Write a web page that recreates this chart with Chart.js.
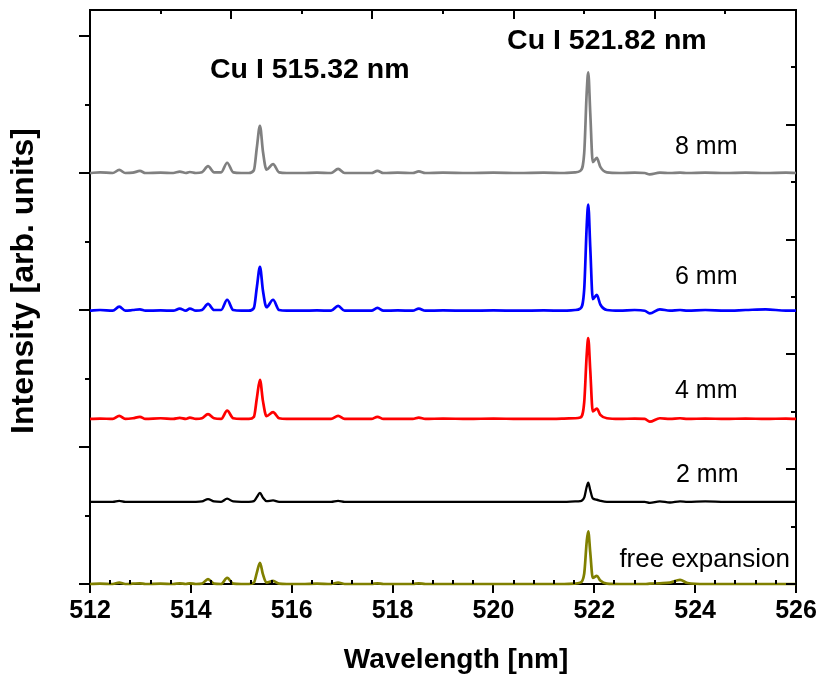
<!DOCTYPE html>
<html>
<head>
<meta charset="utf-8">
<script src="https://cdn.jsdelivr.net/npm/chart.js@4/dist/chart.umd.min.js"></script>
<style>
  html, body { margin: 0; padding: 0; background: #ffffff; }
  #wrap { width: 823px; height: 677px; position: relative; }
</style>
</head>
<body>
<div id="wrap"><canvas id="spec"></canvas></div>
<script>
// Wavelength grid (nm), shared by all spectra
const wavelength = [
  512.00, 512.20, 512.45, 512.58, 512.70, 512.85, 512.99, 513.10, 513.40, 513.65,
  513.78, 513.90, 513.98, 514.10, 514.22, 514.34, 514.46, 514.60, 514.72, 514.84,
  515.00, 515.15, 515.25, 515.31, 515.37, 515.43, 515.50, 515.63, 515.75, 515.90,
  516.20, 516.50, 516.78, 516.92, 517.05, 517.30, 517.58, 517.70, 517.82, 518.10,
  518.40, 518.52, 518.65, 519.00, 519.50, 520.00, 520.50, 521.00, 521.40, 521.62,
  521.72, 521.80, 521.85, 521.88, 521.92, 521.97, 522.05, 522.12, 522.25, 522.50,
  522.80, 523.00, 523.10, 523.30, 523.50, 523.70, 523.85, 524.20, 524.60, 525.00,
  525.40, 525.80, 526.00
];

// Intensity above each spectrum's own baseline (arb. units)
const mm8 = [
  0.00, 0.01, 0.00, 0.045, 0.00, 0.005, 0.03, 0.00, 0.005, 0.00,
  0.02, 0.00, 0.015, 0.00, 0.01, 0.10, 0.01, 0.01, 0.15, 0.01,
  0.00, 0.00, 0.04, 0.38, 0.69, 0.31, 0.05, 0.13, 0.01, 0.00,
  0.00, 0.005, 0.00, 0.06, 0.00, 0.00, 0.00, 0.03, 0.00, 0.005,
  0.00, 0.025, 0.00, 0.005, 0.00, 0.005, 0.00, 0.005, 0.00, 0.01,
  0.03, 0.29, 1.18, 1.47, 0.88, 0.16, 0.22, 0.09, 0.01, 0.00,
  0.005, 0.00, -0.02, 0.005, 0.00, 0.005, 0.00, 0.005, 0.00, 0.005,
  0.00, 0.005, 0.00
];
const mm6 = [
  0.00, 0.01, 0.00, 0.06, 0.00, 0.01, 0.02, 0.00, 0.005, 0.00,
  0.03, 0.00, 0.03, 0.00, 0.01, 0.10, 0.01, 0.01, 0.16, 0.01,
  0.00, 0.00, 0.04, 0.35, 0.64, 0.29, 0.05, 0.16, 0.01, 0.00,
  0.00, 0.005, 0.00, 0.07, 0.00, 0.00, 0.00, 0.04, 0.00, 0.005,
  0.00, 0.03, 0.00, 0.005, 0.00, 0.005, 0.00, 0.005, 0.00, 0.01,
  0.03, 0.31, 1.24, 1.55, 0.93, 0.17, 0.23, 0.09, 0.01, 0.00,
  0.01, 0.00, -0.04, 0.02, 0.00, 0.01, 0.00, 0.01, 0.00, 0.01,
  0.02, 0.00, 0.00
];
const mm4 = [
  0.00, 0.005, 0.00, 0.045, 0.00, 0.01, 0.03, 0.00, 0.01, 0.00,
  0.015, 0.00, 0.02, 0.00, 0.01, 0.07, 0.01, 0.00, 0.12, 0.01,
  0.00, 0.00, 0.03, 0.31, 0.57, 0.26, 0.04, 0.10, 0.01, 0.00,
  0.00, 0.00, 0.00, 0.045, 0.00, 0.00, 0.00, 0.03, 0.00, 0.00,
  0.00, 0.02, 0.00, 0.005, 0.00, 0.005, 0.00, 0.00, 0.005, 0.01,
  0.02, 0.24, 0.94, 1.18, 0.71, 0.11, 0.15, 0.06, 0.01, 0.00,
  0.005, 0.00, -0.04, 0.01, 0.00, 0.01, 0.00, 0.005, 0.00, 0.005,
  0.00, 0.005, 0.00
];
const mm2 = [
  0.00, 0.00, 0.00, 0.015, 0.00, 0.00, 0.00, 0.00, 0.00, 0.00,
  0.00, 0.00, 0.00, 0.00, 0.005, 0.04, 0.005, 0.00, 0.045, 0.005,
  0.00, 0.00, 0.01, 0.07, 0.13, 0.06, 0.01, 0.02, 0.00, 0.00,
  0.00, 0.00, 0.00, 0.015, 0.00, 0.00, 0.00, 0.00, 0.00, 0.00,
  0.00, 0.00, 0.00, 0.00, 0.00, 0.00, 0.00, 0.00, 0.00, 0.005,
  0.01, 0.06, 0.22, 0.28, 0.17, 0.05, 0.03, 0.015, 0.00, 0.00,
  0.00, 0.00, -0.015, 0.005, -0.01, 0.005, 0.00, 0.005, 0.00, 0.00,
  0.00, 0.00, 0.00
];
const freeExp = [
  0.00, 0.005, 0.00, 0.02, 0.00, 0.005, 0.01, 0.00, 0.005, 0.00,
  0.01, 0.00, 0.01, 0.00, 0.005, 0.07, 0.005, 0.00, 0.09, 0.005,
  0.00, 0.00, 0.02, 0.17, 0.31, 0.14, 0.02, 0.045, 0.005, 0.00,
  0.00, 0.005, 0.00, 0.02, 0.00, 0.00, 0.00, 0.01, 0.00, 0.00,
  0.00, 0.01, 0.00, 0.00, 0.00, 0.00, 0.00, 0.00, 0.00, 0.005,
  0.02, 0.15, 0.62, 0.77, 0.46, 0.09, 0.12, 0.05, 0.005, 0.00,
  0.00, 0.00, 0.005, 0.01, 0.02, 0.06, 0.015, 0.00, 0.00, 0.00,
  0.00, 0.00, 0.00
];

// Series names, vertical stacking offsets and colours
const seriesLabels = ['free expansion', '2 mm', '4 mm', '6 mm', '8 mm'];
const seriesValues = [freeExp, mm2, mm4, mm6, mm8];
const seriesOffsets = [0, 1.2, 2.41, 3.99, 6.0];
const seriesColors = ['#808000', '#000000', '#ff0000', '#0000ff', '#808080'];
const seriesWidths = [2.7, 2.3, 2.7, 2.7, 2.7];

// Wavelength axis tick labels
const xTicks = [512, 514, 516, 518, 520, 522, 524, 526];

const FONT = "'Liberation Sans', Arial, Helvetica, sans-serif";

const datasets = seriesValues.map((vals, i) => ({
  label: seriesLabels[i],
  data: wavelength.map((w, k) => ({ x: w, y: vals[k] + seriesOffsets[i] })),
  borderColor: seriesColors[i],
  borderWidth: seriesWidths[i],
  pointRadius: 0,
  fill: false,
  cubicInterpolationMode: 'monotone',
  clip: false
}));

// Frame ticks (inward/outward, alternating lengths) and in-plot labels
const framePlugin = {
  id: 'frame',
  afterDraw(chart) {
    const ctx = chart.ctx;
    const a = chart.chartArea;
    const { x, x2, y, y2 } = chart.scales;
    ctx.save();
    ctx.strokeStyle = '#000';
    ctx.lineWidth = 2;
    ctx.beginPath();
    // left axis: outward ticks
    for (let v = 0; v <= 8; v++) {
      const py = Math.round(y.getPixelForValue(v));
      const len = v % 2 === 0 ? 11 : 5;
      ctx.moveTo(a.left - len, py); ctx.lineTo(a.left, py);
    }
    // right axis: inward ticks
    for (let v = 0; v <= 10; v++) {
      const py = Math.round(y2.getPixelForValue(v));
      const len = v % 2 === 0 ? 10 : 5;
      ctx.moveTo(a.right, py); ctx.lineTo(a.right - len, py);
    }
    // top axis: inward ticks
    for (let v = 1; v <= 9; v++) {
      const px = Math.round(x2.getPixelForValue(v));
      const len = v % 2 === 0 ? 9 : 4;
      ctx.moveTo(px, a.top); ctx.lineTo(px, a.top + len);
    }
    // bottom axis: minor inward ticks
    for (let k = 1; k < 35; k++) {
      if (k % 5 === 0) continue;
      const px = Math.round(x.getPixelForValue(512 + k * 0.4));
      ctx.moveTo(px, a.bottom); ctx.lineTo(px, a.bottom - 4);
    }
    ctx.stroke();

    ctx.fillStyle = '#000';
    ctx.textBaseline = 'alphabetic';
    // line identifications
    ctx.font = 'bold 28.5px ' + FONT;
    ctx.textAlign = 'left';
    ctx.fillText('Cu I 515.32 nm', x.getPixelForValue(514.38), y.getPixelForValue(7.39));
    ctx.fillText('Cu I 521.82 nm', x.getPixelForValue(520.27), y.getPixelForValue(7.81));
    // spectrum labels
    ctx.font = '25px ' + FONT;
    ctx.fillText('8 mm', x.getPixelForValue(523.6), y.getPixelForValue(6.28));
    ctx.fillText('6 mm', x.getPixelForValue(523.6), y.getPixelForValue(4.38));
    ctx.fillText('4 mm', x.getPixelForValue(523.6), y.getPixelForValue(2.715));
    ctx.fillText('2 mm', x.getPixelForValue(523.62), y.getPixelForValue(1.49));
    ctx.textAlign = 'right';
    ctx.font = '26px ' + FONT;
    ctx.fillText('free expansion', x.getPixelForValue(525.88), y.getPixelForValue(0.25));

    // axis titles
    ctx.font = 'bold 28px ' + FONT;
    ctx.textAlign = 'center';
    ctx.textBaseline = 'middle';
    ctx.fillText('Wavelength [nm]', 456, 660);
    ctx.save();
    ctx.translate(24, 281);
    ctx.rotate(-Math.PI / 2);
    ctx.font = 'bold 32px ' + FONT;
    ctx.fillText('Intensity [arb. units]', 0, 0);
    ctx.restore();
    ctx.restore();
  }
};

new Chart(document.getElementById('spec'), {
  type: 'line',
  data: { datasets },
  options: {
    responsive: true,
    maintainAspectRatio: false,
    animation: false,
    layout: { padding: 0 },
    plugins: { legend: { display: false }, tooltip: { enabled: false } },
    scales: {
      x: {
        type: 'linear', position: 'bottom', min: 512, max: 526,
        afterBuildTicks: (s) => { s.ticks = xTicks.map(v => ({ value: v })); },
        ticks: { color: '#000', font: { family: FONT, size: 25, weight: 'bold' }, padding: 3, maxRotation: 0 },
        grid: { display: true, drawOnChartArea: false, drawTicks: true, tickLength: 9, color: '#000', lineWidth: 2 },
        border: { display: true, color: '#000', width: 2 },
        afterFit: (s) => { s.height = 93; }
      },
      x2: {
        type: 'linear', position: 'top', min: 0, max: 10,
        ticks: { display: false },
        grid: { display: false },
        border: { display: true, color: '#000', width: 2 },
        afterFit: (s) => { s.height = 10; }
      },
      y: {
        type: 'linear', position: 'left', min: 0, max: 8.38,
        ticks: { display: false },
        grid: { display: false },
        border: { display: true, color: '#000', width: 2 },
        afterFit: (s) => { s.width = 90; }
      },
      y2: {
        type: 'linear', position: 'right', min: 0, max: 10,
        ticks: { display: false },
        grid: { display: false },
        border: { display: true, color: '#000', width: 2 },
        afterFit: (s) => { s.width = 27; }
      }
    }
  },
  plugins: [framePlugin]
});
</script>
</body>
</html>
